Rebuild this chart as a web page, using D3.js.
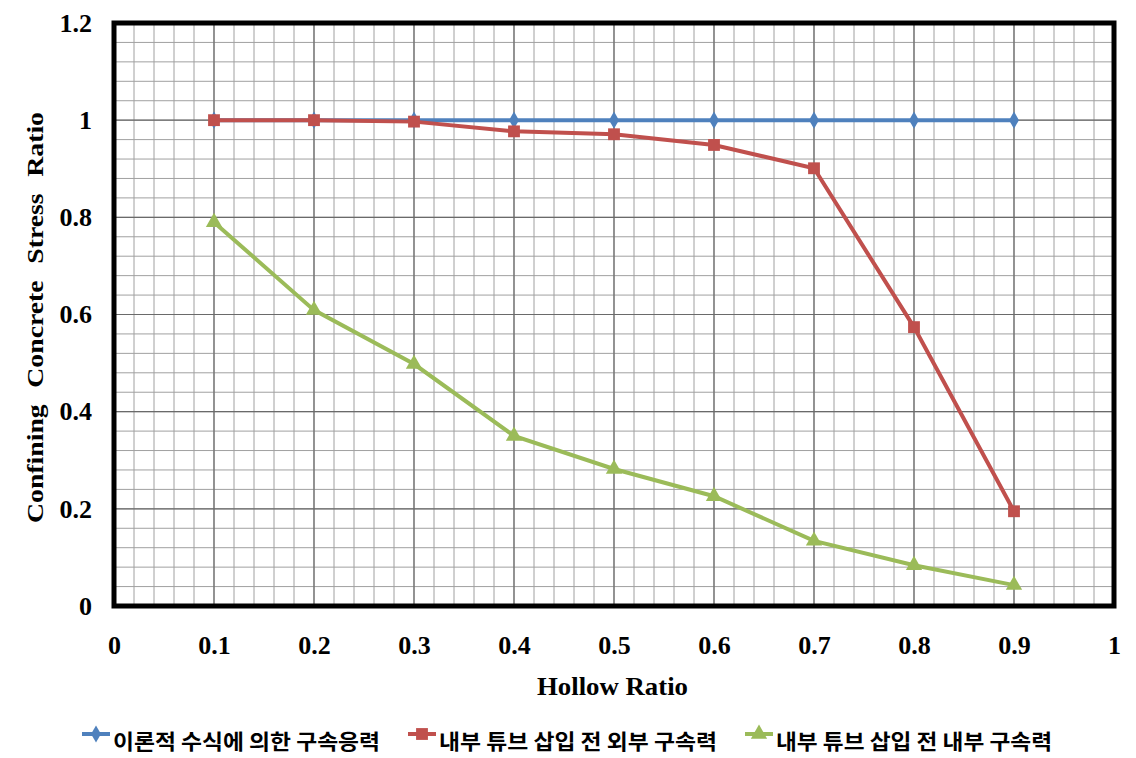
<!DOCTYPE html>
<meta charset="utf-8">
<style>
body { margin: 0; background: #fff; }
.tick text { font-family: 'Liberation Serif', serif; font-weight: bold; font-size: 26px; fill: #000; }
.title { font-family: 'Liberation Serif', serif; font-weight: bold; }
.legend text { font-family: 'Noto Sans CJK KR', sans-serif; font-weight: bold; font-size: 21px; }
</style>
<body>
<svg class="chart"></svg>
<script src="https://d3js.org/d3.v7.min.js"></script>
<script>
// chart size
let rwidth = 1136, rheight = 758;
let margin = {top: 23, bottom: 152, left: 114, right: 22};

// data
let hollow = [0.1, 0.2, 0.3, 0.4, 0.5, 0.6, 0.7, 0.8, 0.9];
let theory = [1, 1, 1, 1, 1, 1, 1, 1, 1];
let outerForce = [1.0, 1.0, 0.997, 0.977, 0.971, 0.949, 0.901, 0.574, 0.195];
let innerForce = [0.790, 0.609, 0.498, 0.350, 0.282, 0.226, 0.134, 0.084, 0.043];
let seriesNames = ['이론적 수식에 의한 구속응력', '내부 튜브 삽입 전 외부 구속력', '내부 튜브 삽입 전 내부 구속력'];
let colorCode = ['#4F81BD', '#C0504D', '#9BBB59'];
let xTicks = [0, 0.1, 0.2, 0.3, 0.4, 0.5, 0.6, 0.7, 0.8, 0.9, 1];
let yTicks = [0, 0.2, 0.4, 0.6, 0.8, 1, 1.2];

let svg = d3.select('.chart').attr('width', rwidth).attr('height', rheight);

let xscale = d3.scaleLinear().domain([0, 1]).range([margin.left, rwidth - margin.right]);
let yscale = d3.scaleLinear().domain([0, 1.2]).range([rheight - margin.bottom, margin.top]);

// grid - minor then major
let minorX = d3.range(0, 1.0001, 0.02);
let minorY = d3.range(0, 1.2001, 0.04);
svg.append('g').selectAll('line').data(minorX).join('line')
  .attr('x1', d => xscale(d)).attr('x2', d => xscale(d))
  .attr('y1', yscale(0)).attr('y2', yscale(1.2))
  .attr('stroke', '#a0a0a0').attr('stroke-width', 1);
svg.append('g').selectAll('line').data(minorY).join('line')
  .attr('y1', d => yscale(d)).attr('y2', d => yscale(d))
  .attr('x1', xscale(0)).attr('x2', xscale(1))
  .attr('stroke', '#a0a0a0').attr('stroke-width', 1);
svg.append('g').selectAll('line').data(xTicks).join('line')
  .attr('x1', d => xscale(d)).attr('x2', d => xscale(d))
  .attr('y1', yscale(0)).attr('y2', yscale(1.2))
  .attr('stroke', '#6a6a6a').attr('stroke-width', 1.2);
svg.append('g').selectAll('line').data(yTicks).join('line')
  .attr('y1', d => yscale(d)).attr('y2', d => yscale(d))
  .attr('x1', xscale(0)).attr('x2', xscale(1))
  .attr('stroke', '#6a6a6a').attr('stroke-width', 1.2);

// axes
let fmt = d => d3.format('')(+d.toFixed(1));
let xaxis = svg.append('g').attr('transform', `translate(0,${yscale(0)})`)
  .call(d3.axisBottom(xscale).tickValues(xTicks).tickSize(0).tickPadding(30).tickFormat(fmt));
xaxis.select('.domain').remove();
let yaxis = svg.append('g').attr('transform', `translate(${xscale(0)},0)`)
  .call(d3.axisLeft(yscale).tickValues(yTicks).tickSize(0).tickPadding(22).tickFormat(fmt));
yaxis.select('.domain').remove();

// plot border
svg.append('rect')
  .attr('x', xscale(0)).attr('y', yscale(1.2))
  .attr('width', xscale(1) - xscale(0)).attr('height', yscale(0) - yscale(1.2))
  .attr('fill', 'none').attr('stroke', '#000').attr('stroke-width', 5);

// series
let allSeries = [theory, outerForce, innerForce];
let symbols = [d3.symbolDiamond, d3.symbolSquare, d3.symbolTriangle];
let symSizes = [85, 140, 115];
let line = d3.line().x((d, i) => xscale(hollow[i])).y(d => yscale(d));

allSeries.forEach((vals, s) => {
  svg.append('path').datum(vals)
    .attr('d', line)
    .attr('fill', 'none')
    .attr('stroke', colorCode[s])
    .attr('stroke-width', 4);
  svg.append('g').selectAll('path').data(vals).join('path')
    .attr('transform', (d, i) => `translate(${xscale(hollow[i])},${yscale(d)})`)
    .attr('d', d3.symbol().type(symbols[s]).size(symSizes[s]))
    .attr('fill', colorCode[s]);
});

// axis titles
svg.append('text').attr('class', 'title')
  .attr('x', 537).attr('y', 695)
  .style('font-size', '26px')
  .attr('textLength', 151).attr('lengthAdjust', 'spacingAndGlyphs')
  .text('Hollow Ratio');
svg.append('text').attr('class', 'title')
  .attr('transform', 'translate(43,523) rotate(-90)')
  .style('font-size', '23px')
  .style('word-spacing', '8px')
  .attr('textLength', 411).attr('lengthAdjust', 'spacingAndGlyphs')
  .text('Confining Concrete Stress Ratio');

// legend
let legendX = [82, 408, 745];
let legendW = [267, 278, 276];
let legend = svg.append('g').attr('class', 'legend');
seriesNames.forEach((name, s) => {
  let g = legend.append('g').attr('transform', `translate(${legendX[s]},749)`);
  g.append('line').attr('x1', 0).attr('x2', 28).attr('y1', -15).attr('y2', -15)
    .attr('stroke', colorCode[s]).attr('stroke-width', 4);
  g.append('path').attr('transform', 'translate(14,-15)')
    .attr('d', d3.symbol().type(symbols[s]).size(symSizes[s]))
    .attr('fill', colorCode[s]);
  g.append('text').attr('x', 31).attr('y', 0)
    .attr('textLength', legendW[s]).attr('lengthAdjust', 'spacingAndGlyphs')
    .text(name);
});
</script>
</body>
